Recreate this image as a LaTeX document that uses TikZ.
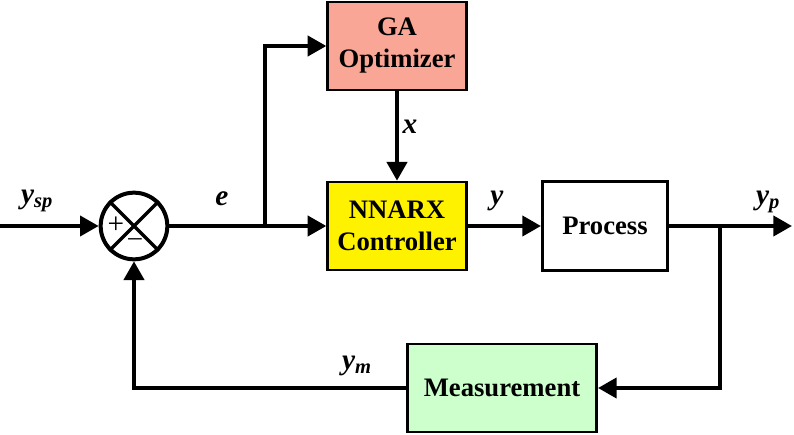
\documentclass[tikz,border=0pt]{standalone}
\usepackage{fontspec}
\setmainfont{Liberation Serif}
\usetikzlibrary{arrows.meta, positioning}

\definecolor{gasalmon}{RGB}{250,166,150}
\definecolor{measgreen}{RGB}{204,255,204}

\begin{document}
\begin{tikzpicture}[x=0.75pt, y=-0.75pt,
  block/.style={draw, line width=2pt, align=center, font=\fontsize{20}{24}\selectfont\bfseries},
  signal/.style={line width=3pt, -{Triangle[length=14pt,width=15pt]}},
  lbl/.style={font=\fontsize{22}{24}\selectfont\bfseries\itshape}]

\useasboundingbox (0,0) rectangle (794,435);

% blocks
\node [block, fill=gasalmon, minimum width=104pt, minimum height=66pt] (ga) at (397,46) {GA\\Optimizer};
\node [block, fill=yellow, minimum width=104pt, minimum height=66pt] (nnarx) at (397,226) {NNARX\\Controller};
\node [block, fill=white, minimum width=94pt, minimum height=67pt] (process) at (605,226) {Process};
\node [block, fill=measgreen, minimum width=142pt, minimum height=66pt] (meas) at (502,388) {Measurement};

% summing junction
\node [circle, draw, line width=3pt, minimum size=50pt, inner sep=0pt] (sum) at (134,226) {};
\draw [line width=2.5pt] (sum.north west) -- (sum.south east) (sum.north east) -- (sum.south west);
\node [font=\fontsize{22}{22}\selectfont] (plus) at (116,225) {+};
\node [font=\fontsize{20}{20}\selectfont] (minus) at (135,242) {\textendash};

\coordinate (in) at (0,226);
\coordinate (out) at (792,226);
\coordinate (split1) at (265,226);
\coordinate (split2) at (720,226);

% signals
\draw [signal] (in) -- (sum);
\draw [signal] (sum) -- (nnarx);
\draw [signal] (split1) |- (ga);
\draw [signal] (ga) -- (nnarx);
\draw [signal] (nnarx) -- (process);
\draw [signal] (process) -- (out);
\draw [signal] (split2) |- (meas);
\draw [signal] (meas) -| (sum);

% labels
\node [lbl] (ysp) at (37,201) {y\textsubscript{sp}};
\node [lbl] (e) at (222,199) {e};
\node [lbl] (x) at (410,127) {x};
\node [lbl] (y) at (497,201) {y};
\node [lbl] (yp) at (768,202) {y\textsubscript{p}};
\node [lbl] (ym) at (357,366) {y\textsubscript{m}};

\end{tikzpicture}
\end{document}
